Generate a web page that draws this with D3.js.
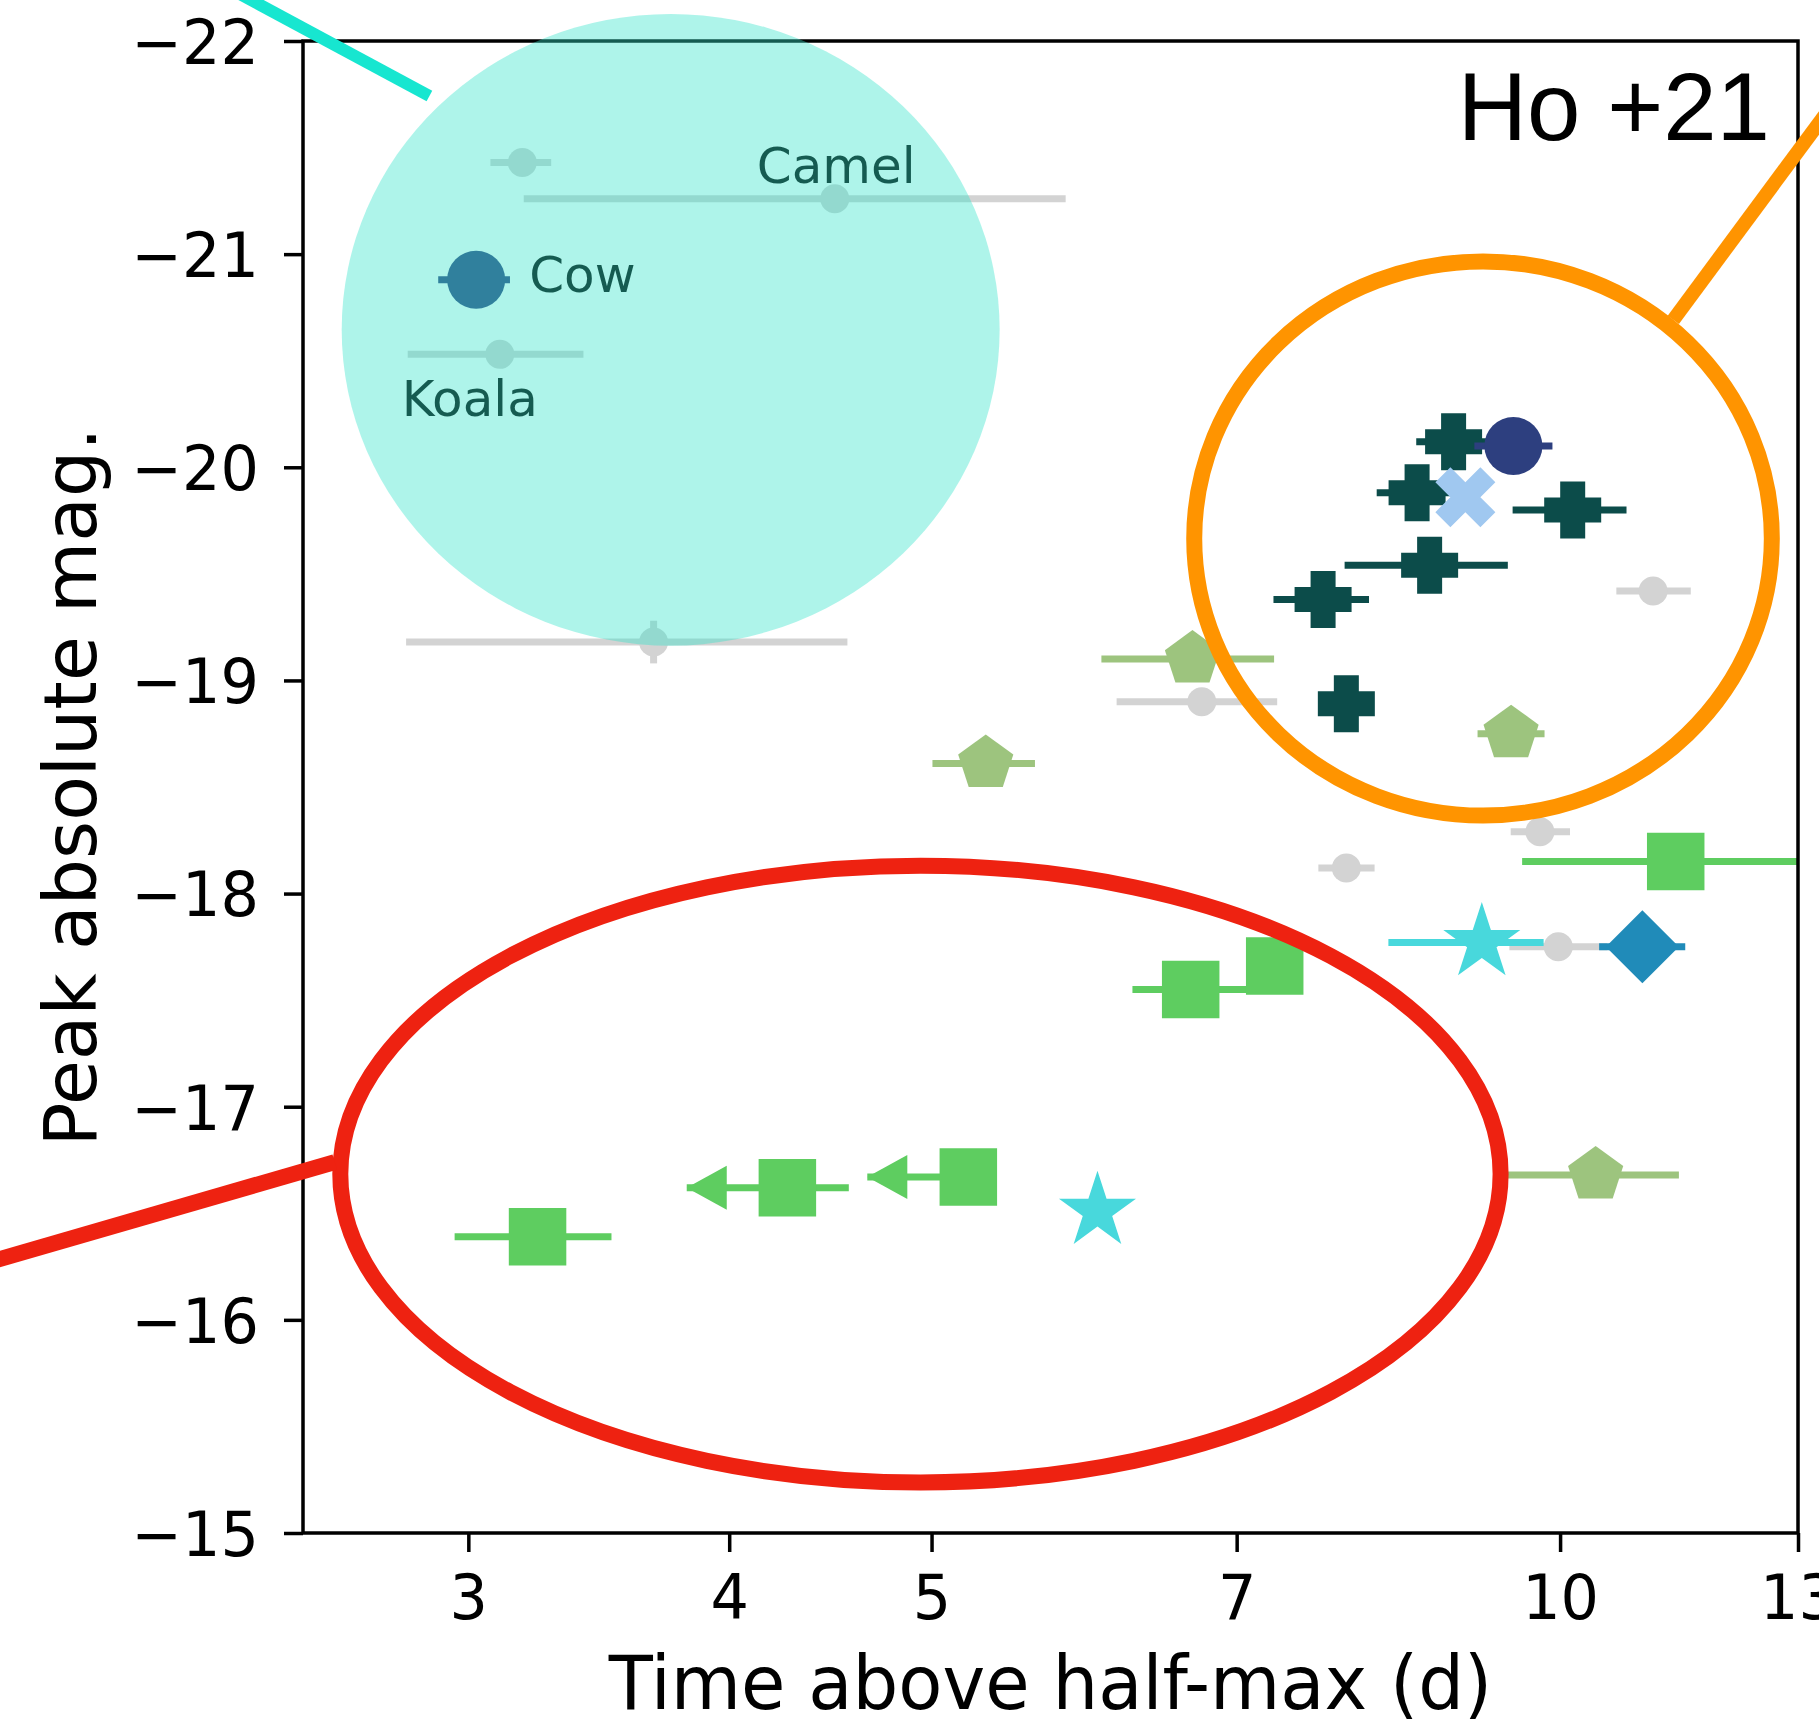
<!DOCTYPE html>
<html>
<head>
<meta charset="utf-8">
<script src="https://cdn.jsdelivr.net/npm/d3@7"></script>
<style>
  html, body { margin: 0; padding: 0; background: #ffffff; }
  svg { display: block; }
</style>
</head>
<body>
<svg id="chart" width="1819" height="1728"></svg>
<script>
// ---- Axis ticks ----
const xTicks = [3, 4, 5, 7, 10, 13];
const yTicks = [-22, -21, -20, -19, -18, -17, -16, -15];

// ---- Series: [time above half-max (d), peak abs. mag, time lower, time upper, mag error] ----
const otherTransients = [
  [3.184, -21.43, 3.074, 3.287, 0],
  [4.494, -21.26, 3.189, 5.797, 0],   // Camel
  [3.106, -20.53, 2.806, 3.406, 0],   // Koala
  [3.680, -19.18, 2.801, 4.557, 0.10],
  [6.736, -18.90, 6.132, 7.320, 0],
  [11.08, -19.42, 10.64, 11.55, 0],
  [9.780, -18.29, 9.470, 10.11, 0],
  [7.900, -18.12, 7.660, 8.150, 0],
  [9.980, -17.75, 9.456, 10.53, 0]
];
const fbotCircles = [
  [3.026, -20.88, 2.902, 3.141],      // Cow
  [9.498, -20.10, 9.098, 9.916]
];
const plusSources = [
  [8.892, -20.12, 8.533, 9.266],
  [8.541, -19.88, 8.169, 8.930],
  [10.14, -19.80, 9.490, 10.76],
  [8.660, -19.54, 7.885, 9.440],
  [7.700, -19.38, 7.290, 8.100],
  [7.900, -18.89, 7.900, 7.900]
];
const crossSources = [
  [9.008, -19.86, 9.008, 9.008]
];
const pentagonSources = [
  [6.667, -19.10, 6.030, 7.295],
  [5.308, -18.61, 5.005, 5.604],
  [9.474, -18.75, 9.130, 9.830],
  [10.40, -16.68, 9.440, 11.40]
];
// last column: 1 when the lower time bound is an upper limit (arrow)
const squareSources = [
  [11.36, -18.15, 9.590, 14.50, 0],
  [7.300, -17.66, 7.300, 7.300, 0],
  [6.654, -17.55, 6.240, 7.075, 0],
  [3.238, -16.39, 2.955, 3.513, 0],
  [4.265, -16.62, 3.817, 4.564, 1],
  [5.207, -16.67, 4.658, 5.207, 1]
];
const starSources = [
  [9.173, -17.77, 8.275, 9.820],
  [6.004, -16.51, 6.004, 6.004]
];
const diamondSources = [
  [10.95, -17.75, 10.44, 11.48]
];

// Named events: [name, source row, label offset dx, dy (px)]
const namedEvents = [
  ["Camel", otherTransients[1], -78, -16],
  ["Cow",   fbotCircles[0],      53,  12],
  ["Koala", otherTransients[2], -98,  62]
];

// ---- Highlight regions: [time min, time max, mag bright, mag faint] ----
const fastZone   = [2.609, 5.390, -22.127, -19.163];
const orangeZone = [6.680, 12.63, -20.966, -18.366];
const redZone    = [2.605, 9.365, -18.131, -15.237];
// Leader lines: two [time, mag] ends each
const fastLeader   = [[2.309, -22.243], [2.874, -21.742]];
const orangeLeader = [[11.33, -20.692], [14.60, -22.150]];
const redLeader    = [[2.589, -16.740], [1.700, -16.222]];

// ---- Layout ----
const margin = { left: 303, right: 21, top: 41, bottom: 195 };
const W = 1819, H = 1728;
const svg = d3.select("#chart");
const x = d3.scaleLog().domain([2.5, 13]).range([margin.left, W - margin.right]);
const y = d3.scaleLinear().domain([-22, -15]).range([margin.top, H - margin.bottom]);
const [x0, x1] = x.range();
const [y0, y1] = y.range();

const FONT = "'DejaVu Sans', sans-serif";
const SQUEEZE = 0.975;   // slightly narrower glyphs for the axis text
const minus = v => (v < 0 ? "\u2212" + Math.abs(v) : String(v));

svg.append("defs").append("clipPath").attr("id", "plotClip")
  .append("rect").attr("x", x0).attr("y", y0).attr("width", x1 - x0).attr("height", y1 - y0);

// ---- Marker shapes (pixel paths centred on 0,0) ----
function plusPath(size, arm) {
  const h = size / 2, a = arm / 2;
  return `M${-a},${-h}H${a}V${-a}H${h}V${a}H${a}V${h}H${-a}V${a}H${-h}V${-a}H${-a}Z`;
}
function xPath(half) {
  const u = half / 2;
  const pts = [[-1,-2],[0,-1],[1,-2],[2,-1],[1,0],[2,1],[1,2],[0,1],[-1,2],[-2,1],[-1,0],[-2,-1]];
  return "M" + pts.map(p => [p[0] * u, p[1] * u].join(",")).join("L") + "Z";
}
function polyPath(n, r, inner) {
  const pts = [];
  const total = inner ? n * 2 : n;
  for (let i = 0; i < total; i++) {
    const ang = -Math.PI / 2 + i * 2 * Math.PI / total;
    const rr = inner && i % 2 === 1 ? r * inner : r;
    pts.push([rr * Math.cos(ang), rr * Math.sin(ang)]);
  }
  return "M" + pts.map(p => p.join(",")).join("L") + "Z";
}
const squarePath = s => `M${-s/2},${-s/2}H${s/2}V${s/2}H${-s/2}Z`;
const diamondPath = h => `M0,${-h}L${h},0L0,${h}L${-h},0Z`;
const circlePath = r => `M${-r},0A${r},${r} 0 1,0 ${r},0A${r},${r} 0 1,0 ${-r},0Z`;
const caretLeft = (w, h) => `M0,0L${w},${-h/2}L${w},${h/2}Z`;

const dataLayer = svg.append("g").attr("clip-path", "url(#plotClip)");

function drawSeries(rows, color, shape) {
  const g = dataLayer.append("g");
  const BAR = 7;
  rows.forEach(r => {
    const [t, m, lo, hi] = r;
    if (lo !== hi) {
      g.append("line")
        .attr("x1", x(lo)).attr("x2", x(hi)).attr("y1", y(m)).attr("y2", y(m))
        .attr("stroke", color).attr("stroke-width", BAR);
    }
    if (r[4] && shape !== "square") {
      g.append("line")
        .attr("x1", x(t)).attr("x2", x(t)).attr("y1", y(m - r[4])).attr("y2", y(m + r[4]))
        .attr("stroke", color).attr("stroke-width", BAR);
    }
    if (shape === "square" && r[4] === 1) {
      g.append("path").attr("d", caretLeft(40, 44))
        .attr("transform", `translate(${x(lo)},${y(m)})`)
        .attr("fill", color);
    }
  });
  g.selectAll("path.mk").data(rows).join("path").attr("class", "mk")
    .attr("d", shape === "square" ? squarePath(57.5)
      : shape === "smallCircle" ? circlePath(14.5)
      : shape === "bigCircle" ? circlePath(29)
      : shape === "plus" ? plusPath(57, 25)
      : shape === "cross" ? xPath(30)
      : shape === "pentagon" ? polyPath(5, 29)
      : shape === "star" ? polyPath(5, 40.5, 0.381966)
      : diamondPath(36.5))
    .attr("transform", d => `translate(${x(d[0])},${y(d[1])})`)
    .attr("fill", color);
}

drawSeries(otherTransients, "#d3d3d3", "smallCircle");
drawSeries(pentagonSources, "#9dc47e", "pentagon");
drawSeries(squareSources, "#5ecd60", "square");
drawSeries(starSources, "#48d8dc", "star");
drawSeries(plusSources, "#0c4c4a", "plus");
drawSeries(crossSources, "#a0c8f0", "cross");
drawSeries(fbotCircles, "#2d3f7f", "bigCircle");
drawSeries(diamondSources, "#208bb9", "diamond");

// ---- Event names ----
svg.append("g").selectAll("text").data(namedEvents).join("text")
  .attr("x", d => x(d[1][0]) + d[2])
  .attr("y", d => y(d[1][1]) + d[3])
  .attr("font-family", FONT).attr("font-size", 50).attr("fill", "#000")
  .text(d => d[0]);

// ---- Axes ----
const axisStyle = g => {
  g.selectAll(".domain").remove();
  g.selectAll(".tick line").attr("stroke", "#000").attr("stroke-width", 3.5);
  g.selectAll(".tick text").attr("font-family", FONT).attr("font-size", 62).attr("fill", "#000");
};
svg.append("g").attr("transform", `translate(${x0},0)`)
  .call(d3.axisLeft(y).tickValues(yTicks).tickSize(19).tickPadding(25).tickFormat(minus))
  .call(axisStyle)
  .call(g => g.selectAll(".tick text").attr("dy", "0.36em")
    .attr("x", -44 / SQUEEZE).attr("transform", `scale(${SQUEEZE},1)`));
svg.append("g").attr("transform", `translate(0,${y1})`)
  .call(d3.axisBottom(x).tickValues(xTicks).tickSize(19).tickPadding(23).tickFormat(d3.format("d")))
  .call(axisStyle)
  .call(g => g.selectAll(".tick text").attr("transform", `scale(${SQUEEZE},1)`));

svg.append("rect")
  .attr("x", x0).attr("y", y0).attr("width", x1 - x0).attr("height", y1 - y0)
  .attr("fill", "none").attr("stroke", "#000").attr("stroke-width", 3.5);

svg.append("text")
  .attr("transform", `translate(${(x0 + x1) / 2},1709) scale(${SQUEEZE},1)`)
  .attr("text-anchor", "middle")
  .attr("font-family", FONT).attr("font-size", 74).attr("fill", "#000")
  .text("Time above half-max (d)");
svg.append("text")
  .attr("transform", `translate(96,${(y0 + y1) / 2}) rotate(-90)`)
  .attr("text-anchor", "middle")
  .attr("font-family", FONT).attr("font-size", 73).attr("fill", "#000")
  .text("Peak absolute mag.");

// ---- Highlight overlays ----
function zoneEllipse(z) {
  const cx = (x(z[0]) + x(z[1])) / 2, rx = (x(z[1]) - x(z[0])) / 2;
  const cy = (y(z[2]) + y(z[3])) / 2, ry = (y(z[3]) - y(z[2])) / 2;
  return { cx, cy, rx, ry };
}
const line = d3.line().x(d => x(d[0])).y(d => y(d[1]));

const fz = zoneEllipse(fastZone);
svg.append("ellipse").attr("cx", fz.cx).attr("cy", fz.cy).attr("rx", fz.rx).attr("ry", fz.ry)
  .attr("fill", "rgb(52,228,202)").attr("fill-opacity", 0.4);
svg.append("path").attr("d", line(fastLeader))
  .attr("stroke", "#17e6d0").attr("stroke-width", 12).attr("fill", "none");

const oz = zoneEllipse(orangeZone);
svg.append("ellipse").attr("cx", oz.cx).attr("cy", oz.cy).attr("rx", oz.rx).attr("ry", oz.ry)
  .attr("fill", "none").attr("stroke", "#ff9400").attr("stroke-width", 16);
svg.append("path").attr("d", line(orangeLeader))
  .attr("stroke", "#ff9400").attr("stroke-width", 14).attr("fill", "none");

const rz = zoneEllipse(redZone);
svg.append("ellipse").attr("cx", rz.cx).attr("cy", rz.cy).attr("rx", rz.rx).attr("ry", rz.ry)
  .attr("fill", "none").attr("stroke", "#ee2211").attr("stroke-width", 16);
svg.append("path").attr("d", line(redLeader))
  .attr("stroke", "#ee2211").attr("stroke-width", 16).attr("fill", "none");

// ---- Reference tag ----
svg.append("text")
  .attr("x", x1 - 28).attr("y", 140)
  .attr("text-anchor", "end")
  .attr("font-family", "'Liberation Sans', Arial, sans-serif").attr("font-size", 96).attr("fill", "#000")
  .text("Ho +21");
</script>
</body>
</html>
